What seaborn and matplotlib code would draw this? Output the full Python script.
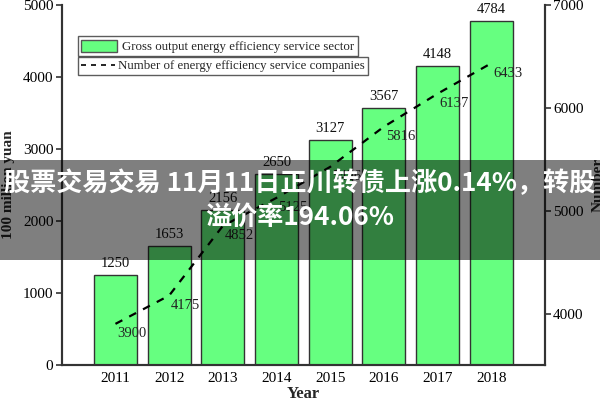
import numpy as np
import pandas as pd
import matplotlib
matplotlib.use("Agg")
import matplotlib.pyplot as plt
from matplotlib.patches import Patch, Rectangle
from matplotlib.lines import Line2D
import seaborn as sns

years = ["2011", "2012", "2013", "2014", "2015", "2016", "2017", "2018"]
output_value = [1250, 1653, 2156, 2650, 3127, 3567, 4148, 4784]
companies = [3900, 4175, 4852, 5125, 5426, 5816, 6137, 6433]
bar_label = "Gross output energy efficiency service sector"
line_label = "Number of energy efficiency service companies"
banner_line1 = "股票交易交易 11月11日正川转债上涨0.14%，转股"
banner_line2 = "溢价率194.06%"

sns.set_theme(style="white")
plt.rcParams['font.family'] = ['Liberation Serif', 'DejaVu Serif']

df = pd.DataFrame({"year": years, "value": output_value})

fig = plt.figure(figsize=(6, 4), dpi=100)
ax = fig.add_axes([0.103, 0.0875, 0.805, 0.9])

sns.barplot(data=df, x="year", y="value", ax=ax, color="#66ff80",
            saturation=1, width=0.8, edgecolor="#333333", linewidth=1.0)
ax.set_xlim(-1, 8)
ax.set_ylim(0, 5000)
ax.set_yticks([0, 1000, 2000, 3000, 4000, 5000])
for i, v in enumerate(output_value):
    ax.text(i, v + 70, str(v), ha="center", va="bottom", fontsize=10.5, color="#111111")

ax2 = ax.twinx()
sns.lineplot(x=np.arange(len(years)), y=companies, ax=ax2, color="black",
             linewidth=1.6, linestyle=(0, (3.5, 3.5)))
ax2.set_ylim(3500, 7000)
ax2.set_yticks([4000, 5000, 6000, 7000])
for i, v in enumerate(companies):
    ax2.annotate(str(v), (i, v), xytext=(12, -7), textcoords="offset points",
                 ha="center", va="center", fontsize=10.5, color="#222222")

for a in (ax, ax2):
    for s in a.spines.values():
        s.set_color("#333333")
        s.set_linewidth(1.5)
    a.spines["top"].set_visible(False)

ax.tick_params(axis="y", direction="out", length=4, width=1.2, colors="#333333",
               labelcolor="black", labelsize=11, pad=2)
ax.tick_params(axis="x", direction="in", length=3, width=1.2, colors="#333333",
               labelcolor="black", labelsize=11, pad=5)
ax2.tick_params(axis="y", direction="out", length=4, width=1.2, colors="#333333",
                labelcolor="black", labelsize=11, pad=2)
ax.set_xlabel("Year", fontsize=12, fontweight="bold", labelpad=1)
ax.set_ylabel("100 million yuan", fontsize=11, fontweight="bold", labelpad=6)
ax2.set_ylabel("Number", fontsize=11, fontweight="bold", labelpad=6)

leg1 = ax.legend(handles=[Patch(facecolor="#66ff80", edgecolor="#555555")],
                 labels=[bar_label], loc="upper left", bbox_to_anchor=(0.033, 0.913),
                 fontsize=9.3, frameon=True, fancybox=False, borderpad=0.25,
                 handlelength=2.8, handleheight=1.1, handletextpad=0.4, borderaxespad=0)
leg1.get_frame().set_edgecolor("#333333")
leg1.get_frame().set_linewidth(1.0)
ax.add_artist(leg1)
leg2 = ax.legend(handles=[Line2D([], [], color="black", linewidth=1.2, linestyle=(0, (3, 3)))],
                 labels=[line_label], loc="upper left", bbox_to_anchor=(0.033, 0.856),
                 fontsize=9.3, frameon=True, fancybox=False, borderpad=0.25,
                 handlelength=2.6, handletextpad=0.3, borderaxespad=0)
leg2.get_frame().set_edgecolor("#333333")
leg2.get_frame().set_linewidth(1.0)

fig.patches.append(Rectangle((0, 0.35), 1, 0.25, transform=fig.transFigure,
                             facecolor="black", alpha=0.5, edgecolor="none", zorder=10))
cjk = ["Noto Sans CJK SC", "DejaVu Sans"]
fig.text(0.5, 0.542, banner_line1, ha="center", va="center", color="white",
         fontsize=18.8, fontweight="bold", family=cjk, zorder=11)
fig.text(0.5, 0.457, banner_line2, ha="center", va="center", color="white",
         fontsize=18.8, fontweight="bold", family=cjk, zorder=11)

fig.savefig("out.png", dpi=100)
